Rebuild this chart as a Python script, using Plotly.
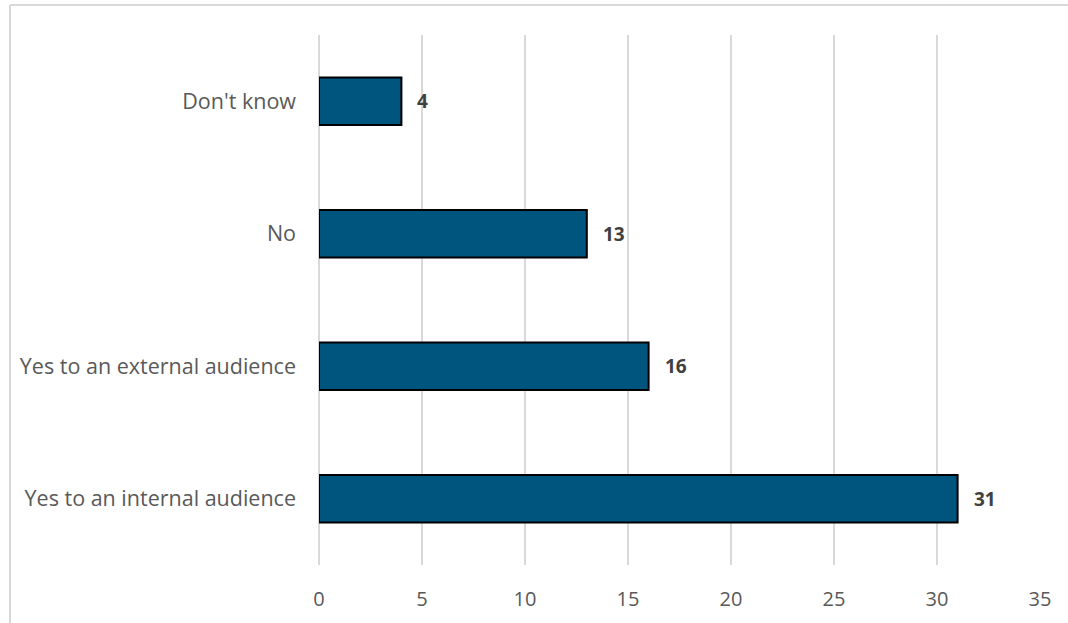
import plotly.graph_objects as go

categories = ["Yes to an internal audience", "Yes to an external audience", "No", "Don't know"]
values = [31, 16, 13, 4]
tick_vals = [0, 5, 10, 15, 20, 25, 30, 35]

W, H = 1068, 623
L, R, T, B = 319, 28, 35, 58
pw, ph = W - L - R, H - T - B

fig = go.Figure()
fig.add_trace(go.Bar(
    x=values, y=categories, orientation="h",
    marker=dict(color="#00557F", line=dict(color="#000000", width=2)),
    width=0.36,
    hoverinfo="skip",
))

for c, v in zip(categories, values):
    fig.add_annotation(x=v, y=c, text="<b>%d</b>" % v, showarrow=False,
                       xanchor="left", yanchor="middle", xshift=14,
                       font=dict(family="Open Sans", size=19, color="#404040"))

# outer frame (left and top edges)
xl = (10 - L) / pw
yt = 1 + (T - 5) / ph
yb = -(B) / ph
fig.add_shape(type="line", xref="paper", yref="paper", x0=xl, x1=xl, y0=yb - 0.01, y1=yt,
              line=dict(color="#D9D9D9", width=2))
fig.add_shape(type="line", xref="paper", yref="paper", x0=xl, x1=(W - L) / pw + 0.01, y0=yt, y1=yt,
              line=dict(color="#D9D9D9", width=2))

fig.update_layout(
    width=W, height=H,
    margin=dict(l=L, r=R, t=T, b=B, pad=0),
    paper_bgcolor="white", plot_bgcolor="white",
    showlegend=False,
    font=dict(family="Open Sans", size=20, color="#595959"),
    xaxis=dict(range=[0, 35], tickvals=tick_vals, showgrid=True, gridcolor="#D9D9D9",
               gridwidth=2, zeroline=True, zerolinecolor="#D9D9D9", zerolinewidth=2,
               showline=False, ticks="", ticklabelstandoff=20,
               tickfont=dict(size=20, color="#595959"), fixedrange=True),
    yaxis=dict(categoryorder="array", categoryarray=categories, showgrid=False,
               zeroline=False, showline=False, ticks="", ticklabelstandoff=22,
               tickfont=dict(size=21.5, color="#595959"), fixedrange=True),
)

fig.write_html("out.html")
